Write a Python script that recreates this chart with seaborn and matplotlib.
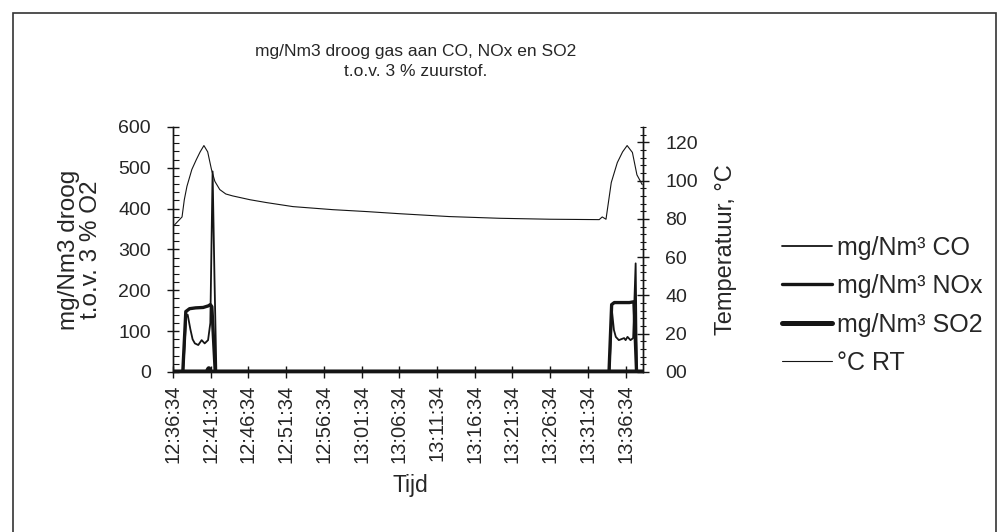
import numpy as np
import matplotlib.pyplot as plt
import matplotlib.ticker as mticker
from matplotlib.patches import Rectangle
import seaborn as sns

# time axis: minutes after 12:36:34
tick_labels = ["12:36:34", "12:41:34", "12:46:34", "12:51:34", "12:56:34",
               "13:01:34", "13:06:34", "13:11:34", "13:16:34", "13:21:34",
               "13:26:34", "13:31:34", "13:36:34"]
tick_minutes = [0, 5, 10, 15, 20, 25, 30, 35, 40, 45, 50, 55, 60]

# temperature (right axis)
temp_t = [0.0, 0.6, 1.2, 1.5, 1.85, 2.5, 3.1, 3.6, 4.1, 4.6, 5.1, 5.55, 6.2, 7.0, 7.9,
          10.2, 12.4, 15.9, 21.2, 25.7, 30.0, 36.6, 43.3, 50.0, 56.5, 56.9, 57.4,
          58.1, 58.9, 59.6, 60.2, 60.9, 61.5, 62.2]
temp_c = [76.0, 78.5, 81.0, 90.0, 97.0, 105.8, 111.0, 115.0, 118.3, 115.0, 105.8, 99.6,
          95.3, 93.0, 92.0, 90.0, 88.5, 86.4, 84.8, 83.8, 82.7, 81.2, 80.3, 79.8, 79.6,
          81.0, 79.8, 99.0, 109.4, 115.0, 118.3, 114.7, 103.0, 97.9]

# CO
co_t = [0.0, 1.35, 1.75, 1.95, 2.3, 2.6, 2.9, 3.35, 3.8, 4.2, 4.65, 4.95, 5.25, 5.5, 5.75,
        57.85, 58.2, 58.45, 58.7, 59.1, 59.8, 60.0, 60.25, 60.65, 61.0, 61.33, 61.5, 62.3]
co_val = [0, 0, 135, 140, 105, 80, 70, 66, 78, 70, 78, 120, 491, 230, 0,
          0, 148, 103, 86, 78, 83, 78, 86, 78, 83, 266, 0, 0]

# NOx
nox_t = [0.0, 1.3, 1.7, 2.2, 3.0, 4.0, 4.7, 4.95, 5.15, 5.6,
         57.8, 58.15, 58.5, 59.5, 60.5, 61.1, 61.45, 62.3]
nox_val = [0, 0, 148, 155, 157, 158, 162, 165, 160, 0,
           0, 165, 170, 170, 170, 172, 0, 0]

# SO2
so2_t = [0.0, 4.5, 4.75, 5.0, 62.3]
so2_val = [0, 0, 8, 0, 0]

sns.set_style("white")
plt.rcParams['font.family'] = ['Liberation Sans', 'DejaVu Sans']

ink = "#151515"
fig = plt.figure(figsize=(10.04, 5.32), dpi=100)
ax = fig.add_axes([0.1723, 0.3008, 0.4681, 0.4605])
ax2 = ax.twinx()

sns.lineplot(x=co_t, y=co_val, ax=ax, color=ink, linewidth=1.3, sort=False,
             estimator=None, label="mg/Nm³ CO")
sns.lineplot(x=nox_t, y=nox_val, ax=ax, color=ink, linewidth=2.4, sort=False,
             estimator=None, label="mg/Nm³ NOx")
sns.lineplot(x=so2_t, y=so2_val, ax=ax, color=ink, linewidth=3.6, sort=False,
             estimator=None, label="mg/Nm³ SO2")
sns.lineplot(x=temp_t, y=temp_c, ax=ax2, color=ink, linewidth=0.8, sort=False,
             estimator=None, label="°C RT")

h1, l1 = ax.get_legend_handles_labels()
h2, l2 = ax2.get_legend_handles_labels()
for a in (ax, ax2):
    if a.get_legend() is not None:
        a.get_legend().remove()

ax.set_xlim(0, 62.3)
ax.set_ylim(0, 600)
ax2.set_ylim(0, 128)
ax.set_xticks(tick_minutes)
ax.set_xticklabels(tick_labels, rotation=90)
ax.yaxis.set_major_locator(mticker.MultipleLocator(100))
ax.yaxis.set_minor_locator(mticker.MultipleLocator(20))
ax2.yaxis.set_major_locator(mticker.MultipleLocator(20))
ax2.yaxis.set_minor_locator(mticker.MultipleLocator(4))
ax2.yaxis.set_major_formatter(mticker.FuncFormatter(lambda v, p: f"{v:02.0f}"))
ax.set_xlabel("")
ax.set_ylabel("")
ax2.set_ylabel("")

for a in (ax, ax2):
    a.spines['top'].set_visible(False)
    for s in ('left', 'right', 'bottom'):
        a.spines[s].set_color(ink)
        a.spines[s].set_linewidth(1.0)
    a.grid(False)

ax.tick_params(axis='x', which='major', bottom=True, direction='inout', length=8,
               width=1, color=ink, labelsize=14.5, pad=5)
ax.tick_params(axis='y', which='major', left=True, right=False, direction='inout',
               length=8, width=1, color=ink, labelsize=14, pad=12)
ax.tick_params(axis='y', which='minor', left=True, right=False, direction='in',
               length=4, width=0.8, color=ink)
ax2.tick_params(axis='y', which='major', right=True, left=False, direction='inout',
                length=8, width=1, color=ink, labelsize=14, pad=12)
ax2.tick_params(axis='y', which='minor', right=True, left=False, direction='inout',
                length=4, width=0.8, color=ink)

fig.text(0.414, 0.885, "mg/Nm3 droog gas aan CO, NOx en SO2\nt.o.v. 3 % zuurstof.",
         ha='center', va='center', fontsize=12.5, linespacing=1.4)
fig.text(0.08, 0.53, "mg/Nm3 droog\nt.o.v. 3 % O2", rotation=90, ha='center',
         va='center', fontsize=17.5, linespacing=1.0, multialignment='center')
fig.text(0.723, 0.53, "Temperatuur, °C", rotation=90, ha='center', va='center',
         fontsize=17)
fig.text(0.409, 0.088, "Tijd", ha='center', va='center', fontsize=16.5)

fig.legend(h1 + h2, l1 + l2, loc='upper left', bbox_to_anchor=(0.779, 0.557),
           frameon=False, fontsize=18, handlelength=2.0, handletextpad=0.2,
           labelspacing=0.58, borderpad=0, borderaxespad=0)

fig.add_artist(Rectangle((0.013, -0.02), 0.979, 0.9956, transform=fig.transFigure,
                         fill=False, edgecolor="#333333", linewidth=1.2))

fig.savefig("out.png", dpi=100)
